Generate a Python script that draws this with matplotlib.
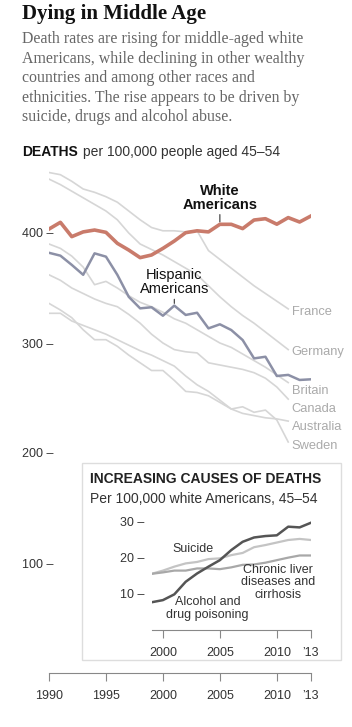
import matplotlib.pyplot as plt
from matplotlib.patches import Rectangle

# main chart data (deaths per 100,000, ages 45-54)
years = list(range(1990, 2014))
white_us = [403.6, 409.7, 396.7, 401, 402.7, 400.6, 390.6, 384.5, 377.6, 380,
            386, 392.7, 400.3, 402, 401, 407.9, 407.9, 404, 411.8, 413,
            408, 414, 410, 415.5]
hispanic_us = [382, 379.4, 371, 362, 381.5, 378.5, 362, 342, 331.5, 332.5,
               324.8, 334, 325.5, 327.5, 313.3, 317, 311.8, 302.7, 286, 287.5,
               270, 271, 266.4, 267]

country_years = list(range(1990, 2012))
france = [455, 453, 447, 440, 437, 433, 428, 420, 412, 405, 402, 402, 401, 402,
          384, 376, 368, 360, 352, 345, 338, 331]
germany = [449, 444, 438, 432, 426, 420, 412, 400, 390, 385, 380, 374, 368, 362,
           352, 342, 333, 325, 318, 310, 302, 294]
britain = [390, 386, 379, 369, 353, 356, 350, 343, 337, 333, 328, 322, 318, 312,
           306, 300, 296, 290, 284, 278, 271, 264]
canada = [362, 357, 350, 345, 340, 336, 333, 326, 318, 308, 300, 294, 292, 291,
          282, 280, 278, 276, 273, 268, 260, 249]
australia = [336, 330, 323, 312, 303, 303, 297, 289, 282, 275, 275, 266, 256, 255,
             252, 246, 240, 236, 234, 232, 231, 229]
sweden = [327, 327, 320, 316, 312, 308, 303, 298, 293, 289, 284, 279, 270, 262,
          256, 248, 240, 242, 237, 239, 230, 210]
countries = ["France", "Germany", "Britain", "Canada", "Australia", "Sweden"]
country_vals = [france, germany, britain, canada, australia, sweden]
label_y = [328, 292, 256, 240, 224, 206]

x_ticks = [1990, 1995, 2000, 2005, 2010, 2013]
x_labels = ["1990", "1995", "2000", "2005", "2010", "\u201913"]
y_ticks = [100, 200, 300, 400]

# inset data (per 100,000 white Americans, 45-54)
inset_years = list(range(1999, 2014))
drugs = [7.7, 8.3, 9.9, 13.4, 15.7, 17.6, 19.4, 22.2, 24.5, 25.7, 26.1, 26.3,
         28.7, 28.5, 29.8]
suicide = [15.6, 16.5, 17.6, 18.5, 18.9, 19.7, 19.9, 20.8, 21.4, 23.0, 23.6,
           24.3, 25.0, 25.3, 25.0]
liver = [15.6, 16.0, 16.5, 16.5, 17.1, 17.1, 16.9, 17.4, 18.1, 18.2, 18.7,
         19.4, 20.1, 20.7, 20.7]
inset_xticks = [2000, 2005, 2010, 2013]
inset_xlabels = ["2000", "2005", "2010", "\u201913"]
inset_yticks = [10, 20, 30]

W, H = 352, 727
sans = ["Liberation Sans", "DejaVu Sans"]
serif = ["Liberation Serif", "DejaVu Serif"]
plt.rcParams['font.family'] = sans

fig = plt.figure(figsize=(W / 100, H / 100), dpi=100)


def box(left, top, right, bottom):
    return [left / W, 1 - bottom / H, (right - left) / W, (bottom - top) / H]


fig.text(22 / W, 1 - 14 / H, "Dying in Middle Age", family=serif, fontsize=15,
         fontweight="bold", va="center", color="#111111")
fig.text(22 / W, 1 - 31 / H,
         "Death rates are rising for middle-aged white\n"
         "Americans, while declining in other wealthy\n"
         "countries and among other races and\n"
         "ethnicities. The rise appears to be driven by\n"
         "suicide, drugs and alcohol abuse.",
         family=serif, fontsize=11.4, va="top", color="#666666", linespacing=1.3)
fig.text(22 / W, 1 - 152 / H, "DEATHS", fontsize=10, fontweight="bold",
         va="center", color="#111111")
fig.text(83 / W, 1 - 152 / H, "per 100,000 people aged 45\u201354", fontsize=10,
         va="center", color="#333333")

# main axes: 1990 at px 49, 2013 at px 311; value 0 at px 673, 1.1 px per unit
ax = fig.add_axes(box(49, 673 - 460 * 1.1, 311, 673))
ax.set_xlim(1990, 2013)
ax.set_ylim(0, 460)

for name, vals, ly in zip(countries, country_vals, label_y):
    ax.plot(country_years, vals, color="#d6d6d6", lw=1.2, zorder=1)
    ax.text(2011.3, ly, name, fontsize=9.3, color="#aaaaaa", va="center",
            ha="left")

ax.plot(years, hispanic_us, color="#8c90a6", lw=1.8, zorder=3)
ax.plot(years, white_us, color="#c97b6b", lw=2.6, zorder=4)

ax.annotate("White\nAmericans", xy=(2005, 410), xytext=(2005, 432),
            ha="center", va="center", fontsize=10.5, fontweight="bold",
            color="#111111", linespacing=1.0,
            arrowprops=dict(arrowstyle="-", color="#333333", lw=0.8,
                            shrinkA=0, shrinkB=0, relpos=(0.5, 0)))
ax.annotate("Hispanic\nAmericans", xy=(2001, 336), xytext=(2001, 355),
            ha="center", va="center", fontsize=10.5, color="#111111",
            linespacing=1.0,
            arrowprops=dict(arrowstyle="-", color="#333333", lw=0.8,
                            shrinkA=0, shrinkB=0, relpos=(0.5, 0)))

for s in ["top", "right", "left"]:
    ax.spines[s].set_visible(False)
ax.spines["bottom"].set_color("#888888")
ax.spines["bottom"].set_linewidth(0.8)
ax.set_xticks(x_ticks)
ax.set_xticklabels(x_labels)
ax.tick_params(axis="x", direction="out", length=6, width=0.8, color="#888888",
               labelsize=9, labelcolor="#333333", pad=6)
ax.set_yticks(y_ticks)
ax.set_yticklabels([f"{v} \u2013" for v in y_ticks])
ax.tick_params(axis="y", length=0, labelsize=9, labelcolor="#333333", pad=-3)
ax.patch.set_alpha(0)

# inset box
fig.patches.append(Rectangle((82 / W, 1 - 660 / H), (341 - 82) / W, (660 - 463) / H,
                             transform=fig.transFigure, facecolor="white",
                             edgecolor="#dddddd", lw=1, zorder=5))
fig.text(90 / W, 1 - 479 / H, "INCREASING CAUSES OF DEATHS", fontsize=10,
         fontweight="bold", va="center", color="#222222", zorder=6)
fig.text(90 / W, 1 - 499 / H, "Per 100,000 white Americans, 45\u201354",
         fontsize=10, va="center", color="#333333", zorder=6)

# inset axes: same x scale, 3.6 px per unit, 0 at px 630
px_per_year = (311 - 49) / 23
x0 = 49 + 9 * px_per_year
iax = fig.add_axes(box(x0, 630 - 32 * 3.6, 311, 630), zorder=7)
iax.patch.set_alpha(0)
iax.set_xlim(1999, 2013)
iax.set_ylim(0, 32)
iax.plot(inset_years, suicide, color="#c4c4c4", lw=1.6)
iax.plot(inset_years, liver, color="#a8a8a8", lw=1.6)
iax.plot(inset_years, drugs, color="#555555", lw=1.8)
iax.text(2002.6, 22.5, "Suicide", fontsize=9, color="#333333", ha="center",
         va="center")
iax.text(2010.1, 13.2, "Chronic liver\ndiseases and\ncirrhosis", fontsize=9,
         color="#333333", ha="center", va="center", linespacing=1.05)
iax.text(2003.9, 6.0, "Alcohol and\ndrug poisoning", fontsize=9, color="#333333",
         ha="center", va="center", linespacing=1.05)
for s in ["top", "right", "left"]:
    iax.spines[s].set_visible(False)
iax.spines["bottom"].set_color("#888888")
iax.spines["bottom"].set_linewidth(0.8)
iax.set_xticks(inset_xticks)
iax.set_xticklabels(inset_xlabels)
iax.tick_params(axis="x", direction="out", length=6, width=0.8, color="#888888",
                labelsize=9, labelcolor="#333333", pad=6)
iax.set_yticks(inset_yticks)
iax.set_yticklabels([f"{v} \u2013" for v in inset_yticks])
iax.tick_params(axis="y", length=0, labelsize=9, labelcolor="#333333", pad=5)

fig.savefig("out.png", dpi=100)
